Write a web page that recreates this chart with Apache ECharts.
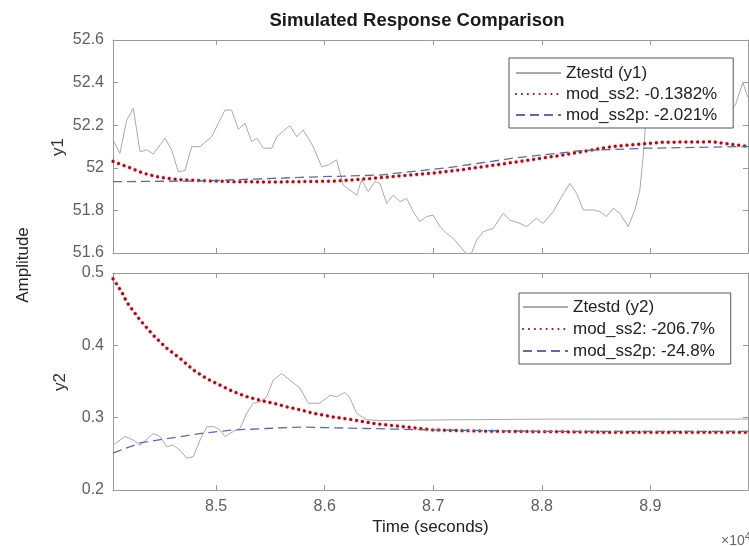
<!DOCTYPE html>
<html><head><meta charset="utf-8">
<script src="https://cdn.jsdelivr.net/npm/echarts@6/dist/echarts.min.js"></script>
<style>html,body{margin:0;padding:0;background:#fff}#c{width:749px;height:546px}</style>
</head><body><div id="c"></div>
<script>
// ---- data (time in units of 10^4 s) ----
const xTickValues = [8.5, 8.6, 8.7, 8.8, 8.9];
const y1TickInterval = 0.2;
const y2TickInterval = 0.1;

const y1ZtestdTime = [8.405,8.4114,8.4176,8.4237,8.4299,8.4360,8.4421,8.4529,8.4591,8.4651,8.4713,8.4775,8.4851,8.4959,8.5035,8.5082,8.5143,8.5204,8.5266,8.5327,8.5374,8.5434,8.5512,8.5558,8.5680,8.5742,8.5803,8.5895,8.5972,8.6033,8.6110,8.6171,8.6294,8.6341,8.6401,8.6463,8.6509,8.6571,8.6632,8.6693,8.6755,8.6816,8.6877,8.6939,8.7000,8.7062,8.7123,8.7184,8.7276,8.7338,8.7400,8.7460,8.7553,8.7645,8.7706,8.7798,8.7860,8.7952,8.8013,8.8105,8.8183,8.8259,8.8321,8.8382,8.8474,8.8535,8.8597,8.8658,8.8720,8.8796,8.8858,8.8904,8.8934,8.8977,8.9088,8.9226,8.9364,8.9503,8.9641,8.9760,8.9788,8.9852,8.9900];
const y1ZtestdValue = [52.131,52.068,52.224,52.279,52.076,52.084,52.065,52.139,52.084,51.982,51.987,52.099,52.099,52.146,52.224,52.271,52.271,52.181,52.209,52.123,52.139,52.092,52.092,52.146,52.198,52.146,52.177,52.099,52.005,52.013,52.037,51.919,51.872,51.943,51.888,51.935,51.927,51.833,51.872,51.841,51.857,51.794,51.747,51.771,51.778,51.724,51.692,51.669,51.614,51.58,51.661,51.700,51.716,51.786,51.755,51.739,51.724,51.763,51.739,51.794,51.864,51.927,51.880,51.802,51.802,51.794,51.771,51.810,51.786,51.724,51.802,51.896,52.052,52.35,52.30,52.38,52.32,52.36,52.31,52.28,52.30,52.40,52.33];

const y1Ss2Time = [8.405,8.4207,8.4326,8.4483,8.4639,8.4851,8.5155,8.5496,8.5772,8.6076,8.6389,8.6693,8.6997,8.7246,8.7734,8.8195,8.8655,8.9116,8.9577,8.99];
const y1Ss2Value = [52.03,52.00,51.975,51.955,51.945,51.94,51.935,51.933,51.935,51.937,51.948,51.962,51.975,51.99,52.025,52.06,52.10,52.12,52.122,52.10];

const y1Ss2pTime = [8.405,8.4851,8.5772,8.6509,8.7126,8.7734,8.8351,8.8968,8.9576,8.99];
const y1Ss2pValue = [51.935,51.938,51.955,51.966,52.0,52.045,52.08,52.092,52.097,52.10];

const y2ZtestdTime = [8.405,8.4161,8.4237,8.4299,8.4421,8.4483,8.4545,8.4605,8.4667,8.4729,8.4790,8.4851,8.4913,8.4975,8.5035,8.5082,8.5158,8.5220,8.5281,8.5342,8.5404,8.5466,8.5526,8.5604,8.5680,8.5772,8.5849,8.5956,8.6048,8.6110,8.6187,8.6233,8.6294,8.6387,8.6539,8.7154,8.8075,8.8996,8.99];
const y2ZtestdValue = [0.262,0.274,0.269,0.262,0.278,0.274,0.260,0.262,0.255,0.244,0.246,0.269,0.287,0.288,0.283,0.274,0.281,0.285,0.306,0.320,0.322,0.329,0.352,0.361,0.352,0.341,0.320,0.320,0.331,0.329,0.335,0.327,0.306,0.297,0.296,0.297,0.298,0.298,0.298];

const y2Ss2Time = [8.405,8.413,8.4176,8.4299,8.4421,8.4545,8.4667,8.4790,8.4913,8.5035,8.5158,8.5281,8.5404,8.5526,8.5650,8.5772,8.5895,8.6079,8.6263,8.6447,8.6693,8.6999,8.7246,8.7614,8.8535,8.99];
const y2Ss2Value = [0.492,0.474,0.460,0.435,0.414,0.396,0.382,0.366,0.354,0.345,0.336,0.329,0.324,0.320,0.315,0.311,0.306,0.301,0.297,0.292,0.288,0.283,0.282,0.281,0.280,0.280];

const y2Ss2pTime = [8.405,8.4299,8.4545,8.4851,8.5158,8.5466,8.5772,8.6387,8.6999,8.8075,8.8996,8.99];
const y2Ss2pValue = [0.251,0.265,0.271,0.278,0.283,0.285,0.287,0.285,0.283,0.281,0.281,0.281];

const namesY1 = ['Ztestd (y1)', 'mod_ss2: -0.1382%', 'mod_ss2p: -2.021%'];
const namesY2 = ['Ztestd (y2)', 'mod_ss2: -206.7%', 'mod_ss2p: -24.8%'];

// ---- chart ----
const zip = (t, v) => t.map((x, i) => [x, v[i]]);
const FONT = '"Liberation Sans", Arial, sans-serif';
const AX = '#9a9a9a';
const LBL = '#5f5f5f';
const X_MIN = 8.405, X_MAX = 8.99;

function xAxis(grid, pos, labels) {
  return {
    type: 'value', gridIndex: grid, position: pos, min: X_MIN, max: X_MAX,
    axisLine: { show: true, onZero: false, lineStyle: { color: AX, width: 1 } },
    axisTick: { show: true, inside: true, length: 5, customValues: xTickValues, lineStyle: { color: AX } },
    axisLabel: { show: labels, customValues: xTickValues, margin: 9, color: LBL, fontSize: 16, fontFamily: FONT,
      formatter: v => v.toFixed(1) },
    splitLine: { show: false }
  };
}
function yAxis(grid, pos, min, max, interval, labels) {
  return {
    type: 'value', gridIndex: grid, position: pos, min, max, interval,
    axisLine: { show: true, onZero: false, lineStyle: { color: AX, width: 1 } },
    axisTick: { show: true, inside: true, length: 5, lineStyle: { color: AX } },
    axisLabel: { show: labels, margin: 9, color: LBL, fontSize: 16, fontFamily: FONT },
    splitLine: { show: false }
  };
}
const grayLine = { color: '#a9a9a9', width: 1 };
const dotLine = { color: '#7e1a2a', width: 3, type: [0.1, 5.8], cap: 'round', shadowColor: 'rgba(255,20,20,0.8)', shadowBlur: 2 };
const dashLine = { color: '#5d6d9c', width: 1.3, type: [9, 5] };

function ser(name, xi, yi, data, ls, z) {
  return { name, type: 'line', xAxisIndex: xi, yAxisIndex: yi, data, symbol: 'none', showSymbol: false,
    lineStyle: ls, itemStyle: { color: ls.color }, smooth: false, clip: true, z, animation: false };
}

function legend(names, left, top, pad, gap) {
  return {
    data: names, orient: 'vertical', left, top, padding: pad, itemGap: gap,
    itemWidth: 45, itemHeight: 12, backgroundColor: '#ffffff', borderColor: '#555', borderWidth: 1,
    itemStyle: { opacity: 0 },
    textStyle: { fontSize: 17, fontFamily: FONT, color: '#222', lineHeight: 18 },
    selectedMode: false, z: 10
  };
}

const chart = echarts.init(document.getElementById('c'), null, { renderer: 'canvas' });
chart.setOption({
  animation: false,
  backgroundColor: '#ffffff',
  title: { text: 'Simulated Response Comparison', left: 412, top: 6, textAlign: 'center',
    textStyle: { fontSize: 18.5, fontWeight: 'bold', color: '#1a1a1a', fontFamily: FONT } },
  grid: [
    { left: 113, top: 40, width: 635, height: 213, containLabel: false },
    { left: 113, top: 273, width: 635, height: 217, containLabel: false }
  ],
  xAxis: [
    xAxis(0, 'bottom', false), xAxis(0, 'top', false),
    Object.assign(xAxis(1, 'bottom', true), { name: 'Time (seconds)', nameLocation: 'middle', nameGap: 29,
      nameTextStyle: { fontSize: 17, color: '#222', fontFamily: FONT } }),
    xAxis(1, 'top', false)
  ],
  yAxis: [
    yAxis(0, 'left', 51.6, 52.6, y1TickInterval, true), yAxis(0, 'right', 51.6, 52.6, y1TickInterval, false),
    yAxis(1, 'left', 0.2, 0.5, y2TickInterval, true), yAxis(1, 'right', 0.2, 0.5, y2TickInterval, false)
  ],
  legend: [
    legend(namesY1, 509, 58, [6, 16, 4, 6], 3),
    legend(namesY2, 519, 293, [5, 16, 4, 3], 4)
  ],
  series: [
    ser(namesY1[0], 0, 0, zip(y1ZtestdTime, y1ZtestdValue), grayLine, 2),
    ser(namesY1[1], 0, 0, zip(y1Ss2Time, y1Ss2Value), dotLine, 3),
    ser(namesY1[2], 0, 0, zip(y1Ss2pTime, y1Ss2pValue), dashLine, 4),
    ser(namesY2[0], 2, 2, zip(y2ZtestdTime, y2ZtestdValue), grayLine, 2),
    ser(namesY2[1], 2, 2, zip(y2Ss2Time, y2Ss2Value), dotLine, 3),
    ser(namesY2[2], 2, 2, zip(y2Ss2pTime, y2Ss2pValue), dashLine, 4)
  ],
  graphic: [
    { type: 'text', x: 23, y: 265, rotation: Math.PI / 2,
      style: { text: 'Amplitude', fontSize: 17, fontFamily: FONT, fill: '#222', align: 'center', verticalAlign: 'middle' } },
    { type: 'text', x: 58, y: 147, rotation: Math.PI / 2,
      style: { text: 'y1', fontSize: 17, fontFamily: FONT, fill: '#333', align: 'center', verticalAlign: 'middle' } },
    { type: 'text', x: 60, y: 382, rotation: Math.PI / 2,
      style: { text: 'y2', fontSize: 17, fontFamily: FONT, fill: '#333', align: 'center', verticalAlign: 'middle' } },
    { type: 'text', x: 721, y: 531,
      style: { text: '{a|×10}{b|4}', fill: '#666',
        rich: { a: { fontSize: 14, fontFamily: FONT, fill: '#666' },
                b: { fontSize: 11, fontFamily: FONT, fill: '#666', padding: [0, 0, 9, 0] } } } }
  ]
});
</script>
</body></html>
